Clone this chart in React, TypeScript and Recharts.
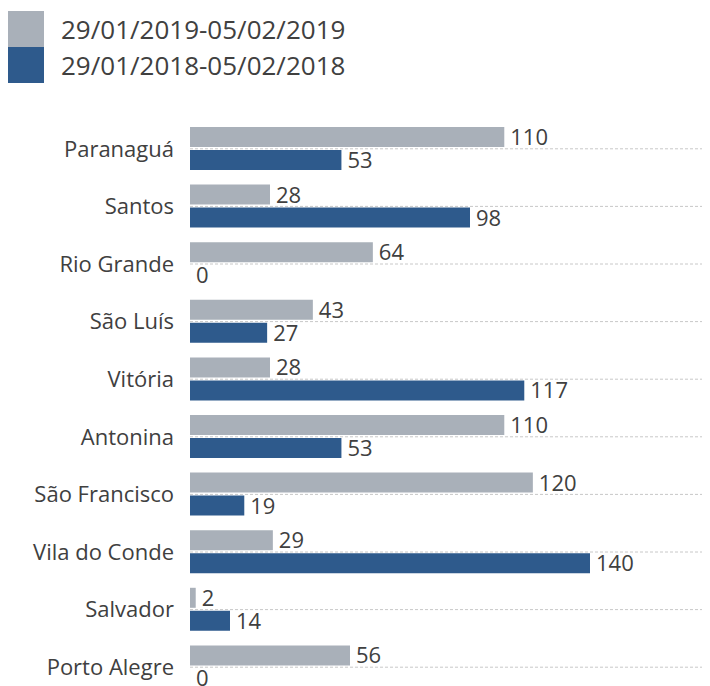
import { BarChart, Bar, XAxis, YAxis, ReferenceLine, LabelList } from 'recharts';

const ports = [
  'Paranaguá',
  'Santos',
  'Rio Grande',
  'São Luís',
  'Vitória',
  'Antonina',
  'São Francisco',
  'Vila do Conde',
  'Salvador',
  'Porto Alegre',
];
const values2019 = [110, 28, 64, 43, 28, 110, 120, 29, 2, 56];
const values2018 = [53, 98, 0, 27, 117, 53, 19, 140, 14, 0];

const series = [
  { key: 'y2019', name: '29/01/2019-05/02/2019', color: '#a9b0b9' },
  { key: 'y2018', name: '29/01/2018-05/02/2018', color: '#2e5a8c' },
];

const data = ports.map((port, i) => ({
  port,
  y2019: values2019[i],
  y2018: values2018[i],
}));

const font = '"Open Sans", sans-serif';
const textColor = '#404040';

// draws the value even when the bar has zero width
const renderValue = (props: any) => {
  const { x, y, width, height, value } = props;
  return (
    <text
      x={Number(x) + Number(width) + 6}
      y={Number(y) + Number(height) / 2}
      dy="0.36em"
      fontSize={22}
      fill={textColor}
      fontFamily={font}
    >
      {value}
    </text>
  );
};

export default function App() {
  return (
    <div style={{ position: 'relative', width: 702, height: 688, fontFamily: font }}>
      <div style={{ position: 'absolute', left: 0, top: 3, zIndex: 1 }}>
        {series.map((s) => (
          <div key={s.key} style={{ display: 'flex', alignItems: 'center', height: 36 }}>
            <div style={{ width: 36, height: 36, background: s.color }} />
            <span style={{ marginLeft: 17, fontSize: 26, color: textColor, lineHeight: '36px' }}>
              {s.name}
            </span>
          </div>
        ))}
      </div>
      <BarChart
        width={702}
        height={688}
        data={data}
        layout="vertical"
        margin={{ top: 112, right: 0, bottom: 0, left: 0 }}
        barSize={20}
        barGap={3}
      >
        <XAxis type="number" domain={[0, 182]} hide />
        <YAxis
          type="category"
          dataKey="port"
          width={182}
          axisLine={false}
          tickLine={false}
          tickMargin={10}
          tick={{ fontSize: 22, fill: textColor, fontFamily: font }}
          interval={0}
        />
        {/* dashed line through the middle of each category */}
        {ports.map((p) => (
          <ReferenceLine key={p} y={p} stroke="#c8c8c8" strokeDasharray="3 2" />
        ))}
        {series.map((s) => (
          <Bar
            key={s.key}
            dataKey={s.key}
            name={s.name}
            fill={s.color}
            minPointSize={(v: number) => (v === 0 ? 0.01 : 0)}
            isAnimationActive={false}
          >
            <LabelList dataKey={s.key} content={renderValue} />
          </Bar>
        ))}
      </BarChart>
    </div>
  );
}
